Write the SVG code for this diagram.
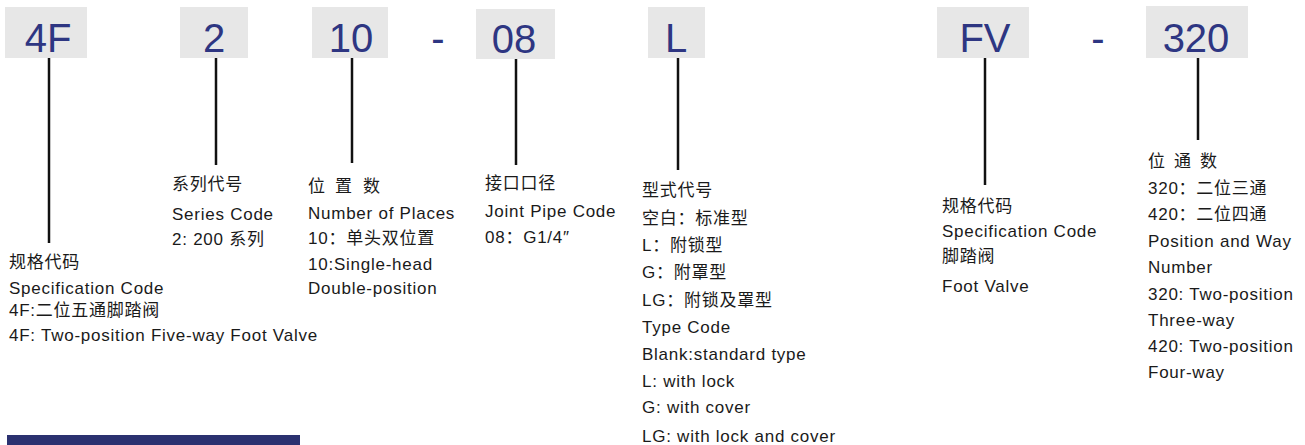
<svg xmlns="http://www.w3.org/2000/svg" width="1305" height="445" viewBox="0 0 1305 445">
<style>
.box{fill:#e7e7e7}
.code{font-family:"Liberation Sans","Noto Sans CJK SC",sans-serif;font-size:40px;fill:#2e3682;text-anchor:middle}
.t{font-family:"Liberation Sans","Noto Sans CJK SC",sans-serif;font-size:17px;letter-spacing:0.75px;fill:#1a1a1a}
.ln{stroke:#111;stroke-width:2.5;fill:none}
</style>
<rect width="1305" height="445" fill="#ffffff"/>
<g id="node-4F">
<rect class="box" x="5" y="7" width="82" height="51"/>
<text class="code" x="48" y="52">4F</text>
<text class="t" x="9" y="268">规格代码</text>
<text class="t" x="9" y="294">Specification Code</text>
<text class="t" x="9" y="316">4F:二位五通脚踏阀</text>
<text class="t" x="9" y="341">4F: Two-position Five-way Foot Valve</text>
</g>
<g id="node-2">
<rect class="box" x="180" y="7" width="68" height="51"/>
<text class="code" x="214" y="52">2</text>
<text class="t" x="172" y="190">系列代号</text>
<text class="t" x="172" y="220">Series Code</text>
<text class="t" x="172" y="245">2: 200 系列</text>
</g>
<g id="node-10">
<rect class="box" x="312" y="7" width="76" height="51"/>
<text class="code" x="351" y="52">10</text>
<text class="t" x="308 335 363" y="192">位置数</text>
<text class="t" x="308" y="219">Number of Places</text>
<text class="t" x="308" y="244">10：单头双位置</text>
<text class="t" x="308" y="270">10:Single-head</text>
<text class="t" x="308" y="294">Double-position</text>
</g>
<text class="code" x="438" y="52">-</text>
<g id="node-08">
<rect class="box" x="476" y="9" width="79" height="50"/>
<text class="code" x="514" y="53">08</text>
<text class="t" x="485" y="189">接口口径</text>
<text class="t" x="485" y="217">Joint Pipe Code</text>
<text class="t" x="485" y="243">08：G1/4″</text>
</g>
<g id="node-L">
<rect class="box" x="648" y="7" width="57" height="51"/>
<text class="code" x="676" y="52">L</text>
<text class="t" x="642" y="196">型式代号</text>
<text class="t" x="642" y="224">空白：标准型</text>
<text class="t" x="642" y="251">L：附锁型</text>
<text class="t" x="642" y="278">G：附罩型</text>
<text class="t" x="642" y="306">LG：附锁及罩型</text>
<text class="t" x="642" y="333">Type Code</text>
<text class="t" x="642" y="360">Blank:standard type</text>
<text class="t" x="642" y="387">L: with lock</text>
<text class="t" x="642" y="413">G: with cover</text>
<text class="t" x="642" y="442">LG: with lock and cover</text>
</g>
<g id="node-FV">
<rect class="box" x="937" y="7" width="92" height="51"/>
<text class="code" x="985" y="52">FV</text>
<text class="t" x="942" y="212">规格代码</text>
<text class="t" x="942" y="237">Specification  Code</text>
<text class="t" x="942" y="262">脚踏阀</text>
<text class="t" x="942" y="292">Foot Valve</text>
</g>
<text class="code" x="1098" y="52">-</text>
<g id="node-320">
<rect class="box" x="1146" y="6" width="102" height="52"/>
<text class="code" x="1196" y="52">320</text>
<text class="t" x="1148 1174 1200" y="167">位通数</text>
<text class="t" x="1148" y="194">320：二位三通</text>
<text class="t" x="1148" y="220">420：二位四通</text>
<text class="t" x="1148" y="247">Position and Way</text>
<text class="t" x="1148" y="273">Number</text>
<text class="t" x="1148" y="300">320: Two-position</text>
<text class="t" x="1148" y="326">Three-way</text>
<text class="t" x="1148" y="352">420: Two-position</text>
<text class="t" x="1148" y="378">Four-way</text>
</g>
<g id="connectors">
<line class="ln" x1="49" y1="58" x2="49" y2="243"/>
<line class="ln" x1="216" y1="58" x2="216" y2="165"/>
<line class="ln" x1="352" y1="58" x2="352" y2="163"/>
<line class="ln" x1="516" y1="59" x2="516" y2="165"/>
<line class="ln" x1="678" y1="58" x2="678" y2="170"/>
<line class="ln" x1="985" y1="58" x2="985" y2="185"/>
<line class="ln" x1="1198" y1="58" x2="1198" y2="140"/>
</g>
<rect x="7" y="435" width="293" height="10" fill="#2b3170"/>
</svg>
